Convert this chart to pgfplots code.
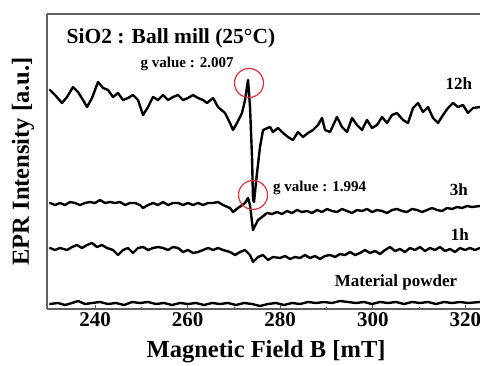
\documentclass[border=0pt]{standalone}
\usepackage{pgfplots}
\pgfplotsset{compat=1.18}
\usepackage{fontspec}
\setmainfont{Liberation Serif}
\definecolor{axgray}{HTML}{606060}
\definecolor{circred}{HTML}{E0303A}
\begin{document}
\begin{tikzpicture}
\begin{axis}[
  name=ax,
  scale only axis, width=433pt, height=295pt,
  xmin=229.63, xmax=323.15, ymin=0, ymax=295,
  axis x line=bottom, axis y line=left,
  axis line style={-, draw=axgray, line width=1.2pt},
  xtick={240,260,280,300,320}, minor xtick={250,270,290,310},
  ytick=\empty,
  tick align=inside, major tick length=4pt, minor tick length=2pt,
  every tick/.style={axgray, line width=0.8pt},
  /pgf/number format/assume math mode=true,
  x tick label style={font=\bfseries\fontsize{21}{21}\selectfont, black},
  xlabel={Magnetic Field B [mT]},
  ylabel={EPR Intensity [a.u.]},
  xlabel style={at={(axis description cs:0.506,-0.145)}, anchor=center, font=\bfseries\fontsize{24.5}{24.5}\selectfont},
  ylabel style={at={(axis description cs:-0.0554,0.5)}, anchor=center, rotate=0, font=\bfseries\fontsize{24.5}{24.5}\selectfont},
  every axis plot/.append style={line join=round, line cap=round},
  clip=true,
]
% 12h
\addplot[black, line width=2.4pt] coordinates {
(230.28,219) (231.36,214) (232.87,206) (233.95,212) (235.25,222) (236.33,217) (237.41,209) (238.27,202) (239.35,211) (240.65,227)
(241.73,221) (242.81,219) (243.89,212) (244.97,216) (246.05,209) (247.13,211) (248.21,214) (249.29,209) (250.37,194) (251.45,202)
(252.53,212) (253.61,209) (254.69,214) (255.77,209) (256.85,212) (257.93,214) (259.01,209) (260.09,211) (261.17,214) (262.25,211)
(263.33,209) (264.19,206) (265.49,211) (266.57,202) (268.08,196) (269.16,186) (269.81,179) (270.67,186) (271.75,196) (272.40,209)
(273.05,229) (273.48,202) (273.91,152) (274.13,109) (274.34,107) (274.99,136) (275.64,162) (276.29,179) (277.80,182) (278.44,177)
(279.53,181) (280.60,176) (281.68,172) (282.76,169) (283.84,177) (284.92,172) (286.00,176) (287.08,179) (288.16,184) (289.03,191)
(289.68,179) (290.76,177) (292.27,192) (293.35,182) (294.43,177) (295.51,191) (296.59,184) (297.67,179) (298.75,189) (299.83,181)
(300.91,184) (301.99,192) (303.07,186) (304.15,194) (305.23,196) (306.52,189) (307.60,186) (308.68,201) (309.76,206) (310.84,197)
(311.92,202) (313.00,191) (314.08,186) (315.16,194) (316.23,201) (317.32,206) (318.40,202) (319.48,204) (320.56,196) (321.64,201)
(323.15,202)
};
% 3h
\addplot[black, line width=2.4pt] coordinates {
(230.28,106) (231.36,104) (232.44,106) (233.52,104) (234.60,107) (235.68,106) (236.76,104) (237.84,106) (238.92,107) (240.00,106)
(241.08,109) (242.16,106) (243.24,107) (244.32,106) (245.40,107) (246.48,104) (247.56,106) (248.64,106) (249.72,104) (250.37,101)
(251.45,104) (252.53,106) (253.61,104) (254.69,107) (255.77,104) (256.85,106) (257.93,106) (259.01,104) (260.09,106) (261.17,104)
(262.25,106) (263.33,104) (264.41,106) (265.49,106) (266.57,107) (267.65,104) (269.16,101) (269.81,97) (270.89,101) (272.40,106)
(273.05,111) (273.48,104) (273.91,87) (274.13,79) (274.56,83) (275.21,89) (276.07,92) (277.15,96) (278.23,95) (279.31,97)
(280.39,95) (281.47,98) (282.55,96) (283.63,99) (284.71,97) (285.79,98) (286.87,96) (287.95,99) (289.03,97) (290.11,100)
(291.19,98) (292.27,97) (293.35,100) (294.43,98) (295.51,96) (296.59,99) (297.67,98) (298.75,100) (299.83,97) (300.91,99)
(301.99,98) (303.07,96) (304.15,99) (305.23,100) (306.31,98) (307.39,97) (308.47,100) (309.55,99) (310.63,97) (311.71,99)
(312.79,101) (313.87,99) (314.95,98) (316.03,101) (317.11,100) (318.19,102) (319.27,101) (320.35,103) (321.43,102) (323.15,103)
};
% 1h
\addplot[black, line width=2.4pt] coordinates {
(230.28,61) (231.36,59) (232.44,61) (233.95,59) (235.03,62) (236.11,64) (237.19,61) (238.27,64) (239.35,66) (240.43,62)
(241.51,64) (242.59,61) (243.89,59) (244.97,54) (246.05,59) (247.13,61) (248.21,56) (249.29,61) (250.37,62) (251.45,59)
(252.53,61) (253.61,62) (254.69,61) (255.77,59) (256.85,62) (257.93,61) (259.01,57) (260.09,59) (261.17,56) (262.25,57)
(263.33,59) (264.41,61) (265.49,59) (266.57,61) (267.65,59) (269.16,57) (270.24,54) (271.32,57) (272.40,59) (273.48,54)
(274.13,47) (275.21,52) (276.29,54) (277.37,49) (278.44,52) (279.96,51) (281.04,53) (282.12,50) (283.20,52) (284.28,51)
(285.36,54) (286.44,51) (287.52,53) (288.60,50) (289.68,53) (290.76,54) (291.84,52) (292.92,55) (294.00,54) (295.08,57)
(296.16,54) (297.24,56) (298.32,59) (299.40,56) (300.48,58) (301.56,55) (302.64,59) (303.71,62) (304.79,58) (305.87,60)
(306.95,57) (308.03,61) (309.11,59) (310.19,62) (311.27,58) (312.35,61) (313.43,59) (314.51,62) (315.59,58) (316.67,60)
(317.75,57) (318.83,61) (319.91,59) (320.99,61) (322.07,59) (323.15,61)
};
% Material powder
\addplot[black, line width=2.4pt] coordinates {
(230.28,5) (232.01,6) (233.52,4) (235.03,6) (236.33,8) (237.84,5) (239.35,6) (241.08,7) (242.81,5) (244.54,6)
(246.26,4) (247.99,7) (249.72,6) (251.45,7) (253.17,5) (254.90,6) (256.63,4) (258.36,6) (260.09,5) (261.81,6)
(263.54,4) (265.27,6) (267.00,5) (268.73,6) (270.45,4) (272.18,6) (273.91,5) (275.64,3) (277.37,5) (279.09,6)
(280.82,4) (282.55,6) (284.28,5) (286.00,7) (287.73,6) (289.46,7) (291.19,6) (292.92,8) (294.64,7) (296.37,6)
(298.10,7) (299.83,5) (301.56,7) (303.28,6) (305.01,7) (306.74,5) (308.47,7) (310.19,6) (311.92,7) (313.65,5)
(315.38,7) (317.11,6) (318.83,7) (320.56,6) (323.15,7)
};
% red circles marking the g values
\addplot[only marks, mark=o, mark size=14.5pt, mark options={circred, line width=1.2pt}] coordinates {(273.26,226) (274.13,114)};
% annotations
\node[anchor=west, font=\bfseries\fontsize{21.5}{21.5}\selectfont] at (axis cs:233.1,271) {SiO2 : Ball mill (25°C)};
\node[font=\bfseries\fontsize{15}{15}\selectfont] at (axis cs:259.9,245) {g value : 2.007};
\node[font=\bfseries\fontsize{15}{15}\selectfont] at (axis cs:288.5,121) {g value : 1.994};
\node[font=\bfseries\fontsize{17}{17}\selectfont] at (axis cs:318.6,225) {12h};
\node[font=\bfseries\fontsize{17}{17}\selectfont] at (axis cs:318.6,119) {3h};
\node[font=\bfseries\fontsize{17}{17}\selectfont] at (axis cs:318.8,74) {1h};
\node[font=\bfseries\fontsize{17}{17}\selectfont] at (axis cs:305.0,27) {Material powder};
\end{axis}
\draw[axgray, line width=1.2pt] (ax.north west) -- (ax.north east);
\pgfresetboundingbox
\path[use as bounding box] (-47pt,-56pt) rectangle (433pt,309pt);
\end{tikzpicture}
\end{document}
